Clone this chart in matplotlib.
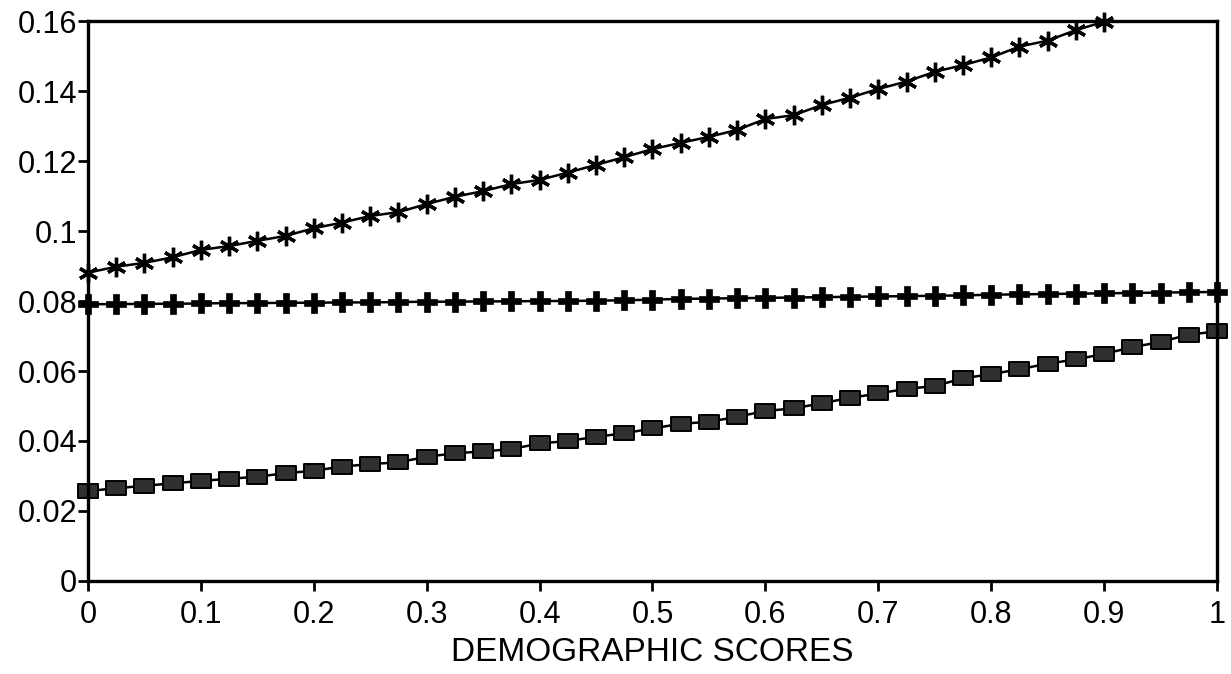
import numpy as np
import matplotlib
matplotlib.use("Agg")
import matplotlib.pyplot as plt
from matplotlib.path import Path

# demographic scores (x), step 0.025
x_scores = [0.0, 0.025, 0.05, 0.075, 0.1, 0.125, 0.15, 0.175, 0.2, 0.225,
            0.25, 0.275, 0.3, 0.325, 0.35, 0.375, 0.4, 0.425, 0.45, 0.475,
            0.5, 0.525, 0.55, 0.575, 0.6, 0.625, 0.65, 0.675, 0.7, 0.725,
            0.75, 0.775, 0.8, 0.825, 0.85, 0.875, 0.9, 0.925, 0.95, 0.975, 1.0]

# upper curve (asterisks), stops at 0.9
star_vals = [0.0881, 0.0898, 0.0909, 0.0925, 0.0946, 0.0957, 0.0972, 0.0986, 0.1008, 0.1024,
             0.1043, 0.1054, 0.1077, 0.1098, 0.1114, 0.1134, 0.1146, 0.1167, 0.1189, 0.1211,
             0.1234, 0.1252, 0.1269, 0.1289, 0.1320, 0.1331, 0.1360, 0.1381, 0.1406, 0.1427,
             0.1455, 0.1474, 0.1496, 0.1527, 0.1544, 0.1574, 0.1598]

# middle curve (plus signs)
plus_vals = [0.0791, 0.0791, 0.0792, 0.0792, 0.0793,
             0.0794, 0.0794, 0.0795, 0.0795, 0.0796, 0.0796,
             0.0797, 0.0798, 0.0798, 0.0799, 0.0799, 0.0800, 0.0800, 0.0801,
             0.0802, 0.0804, 0.0806, 0.0807, 0.0808, 0.0809, 0.0810, 0.0811, 0.0812, 0.0813,
             0.0814, 0.0815, 0.0816, 0.0818, 0.0819, 0.0820, 0.0821, 0.0822, 0.0823, 0.0824,
             0.0825, 0.0826]

# lower curve (shaded boxes)
box_vals = [0.0257, 0.0265, 0.0272, 0.0279, 0.0286, 0.0292, 0.0298, 0.0308, 0.0315, 0.0327,
            0.0334, 0.0339, 0.0355, 0.0365, 0.0370, 0.0377, 0.0393, 0.0400, 0.0412, 0.0422,
            0.0436, 0.0449, 0.0455, 0.0469, 0.0486, 0.0493, 0.0508, 0.0523, 0.0536, 0.0549,
            0.0557, 0.0579, 0.0591, 0.0605, 0.0621, 0.0633, 0.0649, 0.0668, 0.0683, 0.0704,
            0.0713]

xticks = [0, 0.1, 0.2, 0.3, 0.4, 0.5, 0.6, 0.7, 0.8, 0.9, 1.0]
xtick_labels = ["0", "0.1", "0.2", "0.3", "0.4", "0.5", "0.6", "0.7", "0.8", "0.9", "1"]
yticks = [0, 0.02, 0.04, 0.06, 0.08, 0.1, 0.12, 0.14, 0.16]
ytick_labels = ["0", "0.02", "0.04", "0.06", "0.08", "0.1", "0.12", "0.14", "0.16"]

plt.rcParams['font.family'] = ['Liberation Sans', 'DejaVu Sans']

fig = plt.figure(figsize=(12.31, 6.74), dpi=100)
ax = fig.add_axes([0.0715, 0.138, 0.9171, 0.8308])

# wide rectangle marker for the lower curve
rect = Path([(-1, -0.72), (1, -0.72), (1, 0.72), (-1, 0.72), (-1, -0.72)],
            [Path.MOVETO, Path.LINETO, Path.LINETO, Path.LINETO, Path.CLOSEPOLY])

n_star = len(star_vals)
ax.plot(x_scores[:n_star], star_vals, color='black', lw=1.8,
        marker=(6, 2, 0), markersize=14, markeredgewidth=2.4, clip_on=False)
ax.plot(x_scores, plus_vals, color='black', lw=1.8,
        marker='P', markersize=14, markeredgewidth=0.5, clip_on=False)
ax.plot(x_scores, box_vals, color='black', lw=1.8,
        marker=rect, markersize=15, markerfacecolor='#303030',
        markeredgecolor='black', markeredgewidth=1.4, clip_on=False)

ax.set_xlim(0, 1)
ax.set_ylim(0, 0.16)
ax.set_xticks(xticks)
ax.set_xticklabels(xtick_labels)
ax.set_yticks(yticks)
ax.set_yticklabels(ytick_labels)
ax.tick_params(axis='both', direction='out', length=7, width=2, labelsize=22)
ax.tick_params(axis='x', pad=7)
ax.tick_params(axis='y', pad=1)

for s in ax.spines.values():
    s.set_linewidth(2.4)

ax.set_xlabel("DEMOGRAPHIC SCORES", fontsize=24, labelpad=5)

fig.savefig("out.png", dpi=100)
